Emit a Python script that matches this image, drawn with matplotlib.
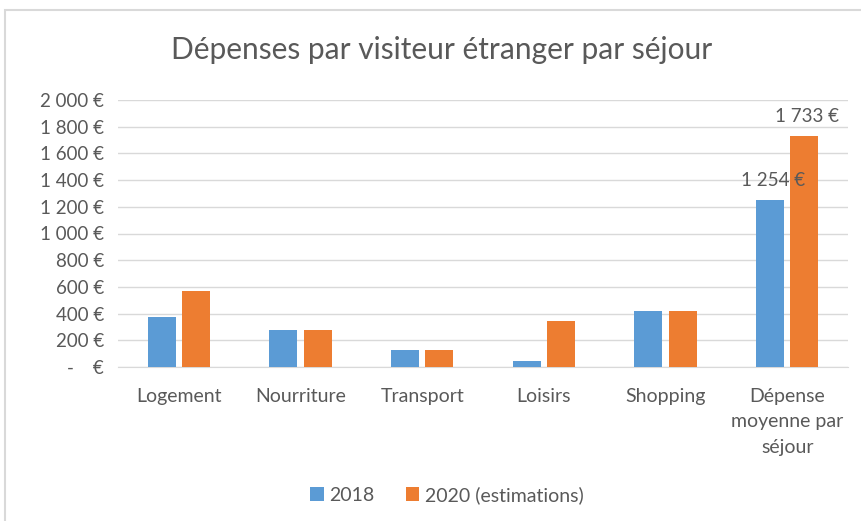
import numpy as np
import matplotlib.pyplot as plt
from matplotlib.patches import Rectangle

# Data
categories = ['Logement', 'Nourriture', 'Transport', 'Loisirs', 'Shopping',
              'Dépense\nmoyenne par\nséjour']
values_2018 = [375, 280, 130, 45, 420, 1254]
values_2020 = [567, 280, 130, 343, 420, 1733]
series_names = ['2018', '2020 (estimations)']
yticks = [0, 200, 400, 600, 800, 1000, 1200, 1400, 1600, 1800, 2000]

blue = '#5B9BD5'
orange = '#ED7D31'
text_col = '#595959'
grid_col = '#D9D9D9'

plt.rcParams['font.family'] = ['Lato', 'DejaVu Sans']

def euro(v):
    if v == 0:
        return '-    €'
    return '{:,.0f} €'.format(v).replace(',', ' ')

fig = plt.figure(figsize=(8.62, 5.21), dpi=100)
ax = fig.add_axes([118 / 862, 1 - 367 / 521, 730 / 862, 267 / 521])

x = np.arange(len(categories)) + 0.5
w = 0.23
off = 0.142
ax.bar(x - off, values_2018, w, color=blue, label=series_names[0], zorder=3)
ax.bar(x + off, values_2020, w, color=orange, label=series_names[1], zorder=3)

# data labels on the last group only
last = len(categories) - 1
for xi, v in [(x[last] - off, values_2018[last]), (x[last] + off, values_2020[last])]:
    ax.annotate(euro(v), (xi, v), xytext=(2, 10), textcoords='offset points',
                ha='center', va='baseline', fontsize=13.5, color=text_col)

ax.set_xlim(0, len(categories))
ax.set_ylim(0, 2000)
ax.set_yticks(yticks)
ax.set_yticklabels([euro(v) for v in yticks])
ax.set_xticks(x)
ax.set_xticklabels(categories, linespacing=1.6, fontsize=14)
ax.tick_params(axis='y', length=0, labelsize=13.5, labelcolor=text_col, pad=10)
ax.tick_params(axis='x', length=0, labelcolor=text_col, pad=15)
ax.grid(axis='y', color=grid_col, linewidth=1, zorder=0)
for s in ['top', 'right', 'left']:
    ax.spines[s].set_visible(False)
ax.spines['bottom'].set_color(grid_col)

fig.text(442 / 862, 1 - 50 / 521, 'Dépenses par visiteur étranger par séjour',
         ha='center', va='center', fontsize=21.5, color=text_col)

fig.legend(loc='center', bbox_to_anchor=(447 / 862, 1 - 495 / 521), ncol=2,
           frameon=False, fontsize=14, labelcolor=text_col,
           handlelength=0.7, handleheight=0.7, handletextpad=0.3,
           columnspacing=1.6)

# chart area border
fig.patches.append(Rectangle((5 / 862, -0.1), 1.2, 1.1 - 10 / 521,
                             transform=fig.transFigure, fill=False,
                             edgecolor=grid_col, linewidth=1.5))

fig.savefig('out.png', dpi=100)
